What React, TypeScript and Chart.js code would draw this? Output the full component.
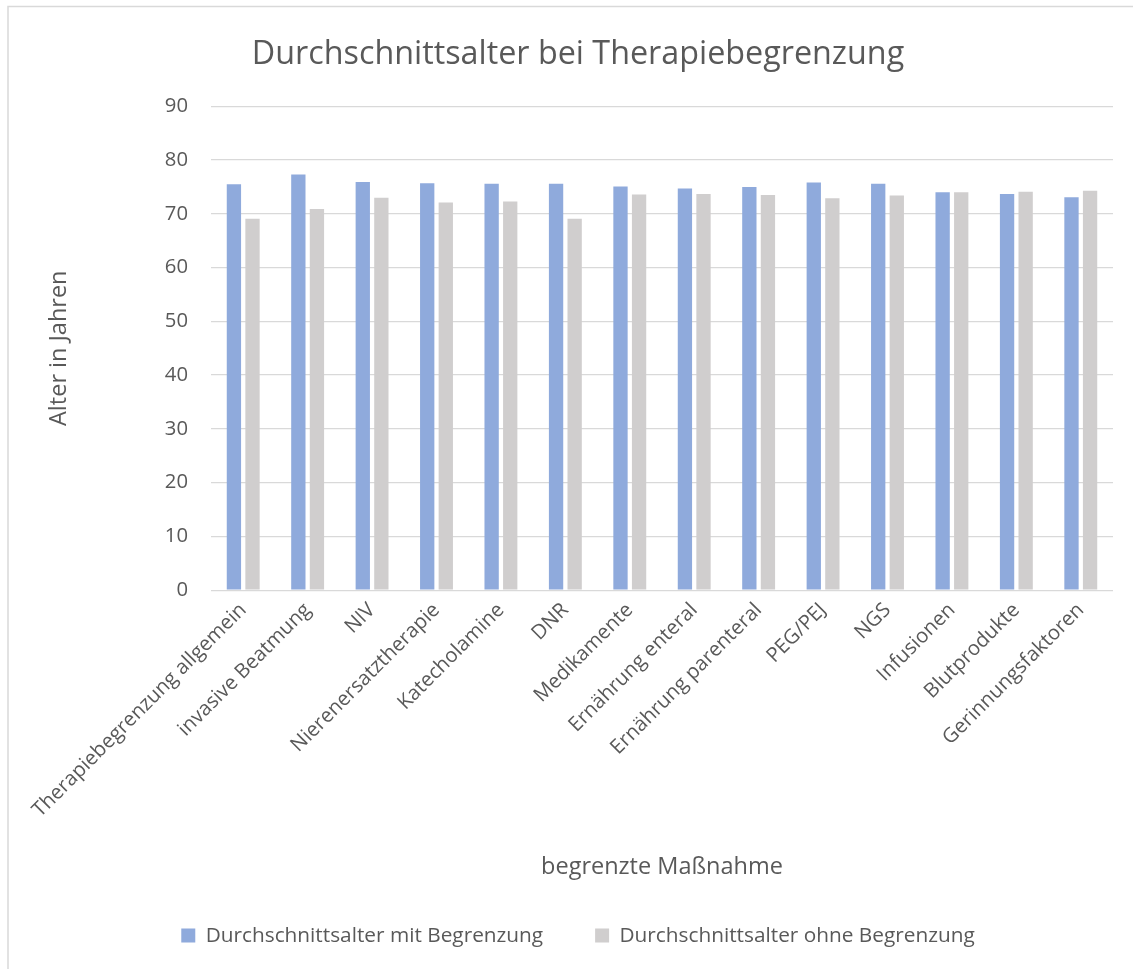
import { useEffect, useRef } from 'react';
import { Chart, registerables } from 'chart.js';

Chart.register(...registerables);

const categories = [
  'Therapiebegrenzung allgemein',
  'invasive Beatmung',
  'NIV',
  'Nierenersatztherapie',
  'Katecholamine',
  'DNR',
  'Medikamente',
  'Ernährung enteral',
  'Ernährung parenteral',
  'PEG/PEJ',
  'NGS',
  'Infusionen',
  'Blutprodukte',
  'Gerinnungsfaktoren',
];
const withLimit = [75.5, 77.3, 75.9, 75.7, 75.6, 75.6, 75.1, 74.7, 75.0, 75.8, 75.6, 74.0, 73.7, 73.1];
const withoutLimit = [69.1, 70.9, 73.0, 72.1, 72.3, 69.1, 73.6, 73.7, 73.5, 72.9, 73.4, 74.0, 74.1, 74.3];
const seriesNames = ['Durchschnittsalter mit Begrenzung', 'Durchschnittsalter ohne Begrenzung'];
const titleText = 'Durchschnittsalter bei Therapiebegrenzung';
const yTitle = 'Alter in Jahren';
const xTitle = 'begrenzte Maßnahme';

const FONT = '"Open Sans", "DejaVu Sans", sans-serif';
const TEXT = '#595959';

const frame = {
  id: 'frame',
  beforeDraw(chart: any) {
    const ctx = chart.ctx;
    ctx.save();
    ctx.fillStyle = '#ffffff';
    ctx.fillRect(0, 0, chart.width, chart.height);
    ctx.strokeStyle = '#d9d9d9';
    ctx.lineWidth = 1.5;
    ctx.beginPath();
    ctx.moveTo(8, chart.height);
    ctx.lineTo(8, 6.5);
    ctx.lineTo(chart.width, 6.5);
    ctx.stroke();
    ctx.restore();
  },
};

export default function App() {
  const ref = useRef<HTMLCanvasElement>(null);
  useEffect(() => {
    if (!ref.current) return;
    const chart = new Chart(ref.current, {
      type: 'bar',
      data: {
        labels: categories,
        datasets: [
          { label: seriesNames[0], data: withLimit, backgroundColor: '#8faadc', categoryPercentage: 0.577, barPercentage: 0.77 },
          { label: seriesNames[1], data: withoutLimit, backgroundColor: '#d0cece', categoryPercentage: 0.577, barPercentage: 0.77 },
        ],
      },
      options: {
        responsive: false,
        animation: false,
        layout: { padding: { left: 43, right: 20, top: 0, bottom: 13 } },
        plugins: {
          title: {
            display: true,
            text: titleText,
            color: TEXT,
            font: { family: FONT, size: 32.3, weight: 'normal' },
            padding: { top: 35, bottom: 32.5 },
          },
          legend: {
            position: 'bottom',
            labels: {
              color: TEXT,
              font: { family: FONT, size: 20.8 },
              boxWidth: 14,
              boxHeight: 14,
              padding: 52,
            },
          },
          tooltip: { enabled: false },
        },
        scales: {
          x: {
            grid: { display: false },
            border: { display: false },
            ticks: {
              color: TEXT,
              font: { family: FONT, size: 20.3 },
              minRotation: 45,
              maxRotation: 45,
              autoSkip: false,
              padding: 0,
            },
            title: {
              display: true,
              text: xTitle,
              color: TEXT,
              font: { family: FONT, size: 23.5 },
              padding: { top: 0, bottom: -8 },
            },
            afterFit(scale: any) {
              scale.height = 283;
              scale.paddingLeft = 0;
              scale.paddingRight = 0;
            },
          },
          y: {
            min: 0,
            max: 90,
            border: { display: false },
            grid: { color: '#d9d9d9', lineWidth: 1.3, drawTicks: false },
            ticks: {
              stepSize: 10,
              color: TEXT,
              font: { family: FONT, size: 20.3 },
              padding: 23,
            },
            title: {
              display: true,
              text: yTitle,
              color: TEXT,
              font: { family: FONT, size: 23.5 },
              padding: { top: 2, bottom: 0 },
            },
            afterFit(scale: any) {
              scale.width = 168;
            },
          },
        },
      },
      plugins: [frame],
    });
    return () => chart.destroy();
  }, []);
  return (
    <div style={{ position: 'fixed', left: 0, top: 0, width: 1133, height: 969, background: '#fff' }}>
      <canvas ref={ref} width={1133} height={969} style={{ display: 'block', width: 1133, height: 969 }} />
    </div>
  );
}
